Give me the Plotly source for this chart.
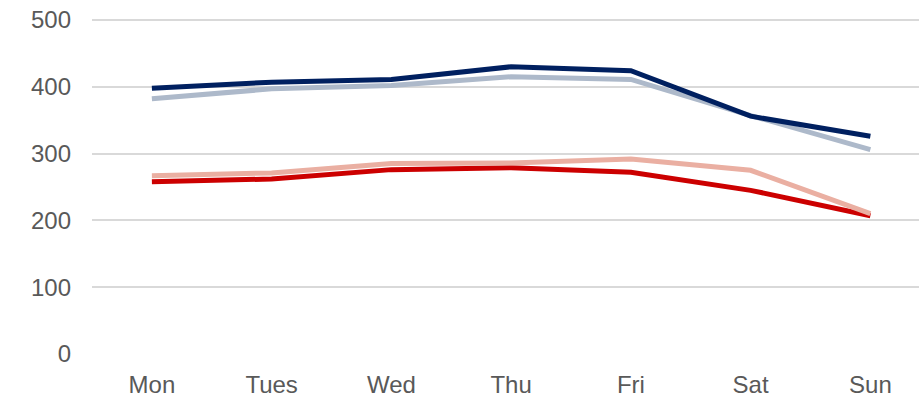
import plotly.graph_objects as go

days = ["Mon", "Tues", "Wed", "Thu", "Fri", "Sat", "Sun"]
navy_vals = [398, 407, 411, 430, 424, 356, 326]
grayblue_vals = [382, 397, 402, 415, 411, 357, 306]
red_vals = [258, 262, 276, 279, 272, 245, 207]
salmon_vals = [267, 271, 285, 286, 292, 275, 210]
y_ticks = [0, 100, 200, 300, 400, 500]

fig = go.Figure()
fig.add_trace(go.Scatter(x=days, y=red_vals, mode="lines",
                         line=dict(color="#CC0000", width=5)))
fig.add_trace(go.Scatter(x=days, y=salmon_vals, mode="lines",
                         line=dict(color="#EAAFA2", width=5)))
fig.add_trace(go.Scatter(x=days, y=grayblue_vals, mode="lines",
                         line=dict(color="#ADB9CA", width=5)))
fig.add_trace(go.Scatter(x=days, y=navy_vals, mode="lines",
                         line=dict(color="#002060", width=5)))

fig.update_layout(
    width=919, height=398,
    margin=dict(l=92, r=0, t=18, b=43),
    paper_bgcolor="white", plot_bgcolor="white",
    showlegend=False,
    font=dict(family="Liberation Sans, Arial, sans-serif", size=24, color="#595959"),
)
fig.update_xaxes(
    type="category", range=[-0.5, 6.406],
    showgrid=False, zeroline=False, showline=False,
    ticks="", ticklabelstandoff=13,
    tickfont=dict(size=24, color="#595959"),
)
fig.update_yaxes(
    range=[-1.5, 503], tickvals=y_ticks,
    showgrid=True, gridcolor="#D9D9D9", gridwidth=1.5,
    zeroline=False, showline=False, ticks="",
    ticklabelstandoff=20,
    tickfont=dict(size=24, color="#595959"),
)

fig.write_html("out.html")
